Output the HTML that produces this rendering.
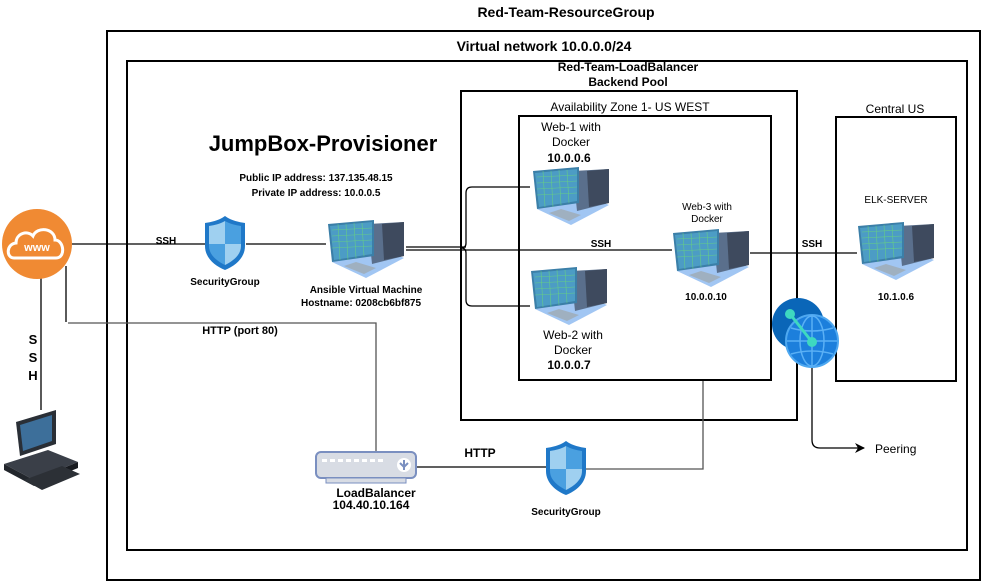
<!DOCTYPE html>
<html><head><meta charset="utf-8"><style>
body{margin:0;background:#fff}
svg{display:block;font-family:"Liberation Sans",Arial,sans-serif}
</style></head><body>
<svg width="983" height="582" viewBox="0 0 983 582">
<defs>
<g id="vm">
 <polygon points="6,44 40,60 78,40 46,26" fill="#8ab8f0" opacity="0.8"/>
 <polygon points="42,6 78,4 78,38 46,46" fill="#5a6f8c"/>
 <polygon points="56,6 78,4 78,38 58,42" fill="#3e4a5e"/>
 <polygon points="2,6 48,2 48,38 6,44" fill="#3b7fa8"/>
 <polygon points="4,8 46,4 46,36 8,42" fill="#4fa0c8" opacity="0.9"/>
 <path d="M6,12 L46,10 M6,18 L46,16 M6,24 L46,22 M6,30 L46,28 M12,6 L14,42 M20,6 L22,42 M28,5 L30,40 M36,5 L38,38" stroke="#6fe06f" stroke-width="0.6" opacity="0.7"/>
 <polygon points="18,48 38,56 50,50 30,44" fill="#9fb0c0"/>
</g>
<g id="shield">
 <path d="M20,0 C27,5 34,6 40,7 L40,30 C40,42 30,50 20,54 C10,50 0,42 0,30 L0,7 C6,6 13,5 20,0Z" fill="#1f78c8"/>
 <path d="M20,5 L20,28 L4,28 L4,10 C10,9 15,8 20,5Z" fill="#9fd0f0"/>
 <path d="M20,5 C25,8 30,9 36,10 L36,28 L20,28Z" fill="#4aa0e0"/>
 <path d="M4,28 L20,28 L20,49 C12,45 4,39 4,30Z" fill="#4aa0e0"/>
 <path d="M20,28 L36,28 L36,30 C36,39 28,45 20,49Z" fill="#9fd0f0"/>
</g>
<marker id="ar" markerWidth="10" markerHeight="10" refX="9" refY="5" orient="auto" markerUnits="userSpaceOnUse"><path d="M0,0 L10,5 L0,10 L3,5Z" fill="#000"/></marker>
</defs>

<text x="566" y="17" font-size="14" font-weight="bold" text-anchor="middle">Red-Team-ResourceGroup</text>
<rect x="107" y="31" width="873" height="549" fill="none" stroke="#000" stroke-width="2"/>
<text x="544" y="51" font-size="14" font-weight="bold" text-anchor="middle">Virtual network 10.0.0.0/24</text>
<rect x="127" y="61" width="840" height="489" fill="none" stroke="#000" stroke-width="2"/>
<text x="628" y="71" font-size="12" font-weight="bold" text-anchor="middle">Red-Team-LoadBalancer</text>
<text x="628" y="86" font-size="12" font-weight="bold" text-anchor="middle">Backend Pool</text>
<rect x="461" y="91" width="336" height="329" fill="none" stroke="#000" stroke-width="2"/>
<text x="630" y="111" font-size="12" text-anchor="middle">Availability Zone 1- US WEST</text>
<rect x="519" y="116" width="252" height="264" fill="none" stroke="#000" stroke-width="2"/>
<text x="895" y="113" font-size="12" text-anchor="middle">Central US</text>
<rect x="836" y="117" width="120" height="264" fill="none" stroke="#000" stroke-width="2"/>

<text x="323" y="151" font-size="22" font-weight="bold" text-anchor="middle">JumpBox-Provisioner</text>
<text x="316" y="181" font-size="10" font-weight="bold" text-anchor="middle">Public IP address: 137.135.48.15</text>
<text x="316" y="196" font-size="10" font-weight="bold" text-anchor="middle">Private IP address: 10.0.0.5</text>

<!-- lines -->
<g stroke="#000" stroke-width="1.3" fill="none">
 <line x1="72" y1="244" x2="206" y2="244"/>
 <line x1="246" y1="244" x2="326" y2="244"/>
 <line x1="406" y1="247" x2="466" y2="247"/>
 <line x1="406" y1="250" x2="672" y2="250"/>
 <path d="M530,187 L472,187 Q466,187 466,193 L466,243 Q466,248 461,248 Q466,248 466,253 L466,300 Q466,306 472,306 L530,306"/>
 <line x1="750" y1="253" x2="857" y2="253"/>
 <line x1="41" y1="278" x2="41" y2="410"/>
 <line x1="66" y1="266" x2="66" y2="322"/>
 <path d="M68,323 L376,323 L376,452" stroke="#555"/>
 <line x1="415" y1="467" x2="546" y2="467"/>
 <path d="M585,469 L703,469 L703,381" stroke="#555"/>
 <path d="M812,368 L812,440 Q812,448 820,448 L864,448" marker-end="url(#ar)"/>
</g>

<text x="166" y="244" font-size="10" font-weight="bold" text-anchor="middle">SSH</text>
<text x="601" y="247" font-size="10" font-weight="bold" text-anchor="middle">SSH</text>
<text x="812" y="247" font-size="10" font-weight="bold" text-anchor="middle">SSH</text>
<text x="240" y="334" font-size="11" font-weight="bold" text-anchor="middle">HTTP (port 80)</text>
<text x="480" y="457" font-size="12" font-weight="bold" text-anchor="middle">HTTP</text>
<text x="33" y="344" font-size="13" font-weight="bold" text-anchor="middle">S</text>
<text x="33" y="362" font-size="13" font-weight="bold" text-anchor="middle">S</text>
<text x="33" y="380" font-size="13" font-weight="bold" text-anchor="middle">H</text>
<text x="875" y="453" font-size="12">Peering</text>

<!-- www cloud -->
<circle cx="37" cy="244" r="35" fill="#f08a33"/>
<path d="M14,258 C6,258 6,244 16,243 C16,233 28,230 33,236 C37,226 55,228 55,240 C64,240 66,258 56,258Z" fill="none" stroke="#fff" stroke-width="3"/>
<text x="37" y="251" font-size="11" font-weight="bold" fill="#fff" text-anchor="middle">www</text>

<!-- computer -->
<g transform="translate(2,410)">
 <polygon points="14,12 54,0 54,34 18,46" fill="#2a2f36"/>
 <polygon points="18,15 50,5 50,31 21,41" fill="#3d6f9a"/>
 <polygon points="2,54 46,40 76,52 32,70" fill="#3a3f48"/>
 <polygon points="2,54 32,70 32,76 2,60" fill="#22262c"/>
 <polygon points="32,70 76,52 76,58 32,76" fill="#181b20"/>
 <polygon points="22,70 60,56 78,64 40,80" fill="#2c3036"/>
</g>

<!-- shields -->
<use href="#shield" transform="translate(205,216)"/>
<text x="225" y="285" font-size="10" font-weight="bold" text-anchor="middle">SecurityGroup</text>
<use href="#shield" transform="translate(546,441)"/>
<text x="566" y="515" font-size="10" font-weight="bold" text-anchor="middle">SecurityGroup</text>

<!-- VMs -->
<use href="#vm" transform="translate(326,218)"/>
<text x="366" y="293" font-size="10" font-weight="bold" text-anchor="middle">Ansible Virtual Machine</text>
<text x="361" y="306" font-size="10" font-weight="bold" text-anchor="middle">Hostname: 0208cb6bf875</text>
<use href="#vm" transform="translate(531,165)"/>
<text x="571" y="131" font-size="12" text-anchor="middle">Web-1 with</text>
<text x="571" y="146" font-size="12" text-anchor="middle">Docker</text>
<text x="569" y="162" font-size="12" font-weight="bold" text-anchor="middle">10.0.0.6</text>
<use href="#vm" transform="translate(529,265)"/>
<text x="573" y="339" font-size="12" text-anchor="middle">Web-2 with</text>
<text x="573" y="354" font-size="12" text-anchor="middle">Docker</text>
<text x="569" y="369" font-size="12" font-weight="bold" text-anchor="middle">10.0.0.7</text>
<use href="#vm" transform="translate(671,227)"/>
<text x="707" y="210" font-size="10" text-anchor="middle">Web-3 with</text>
<text x="707" y="222" font-size="10" text-anchor="middle">Docker</text>
<text x="706" y="300" font-size="10" font-weight="bold" text-anchor="middle">10.0.0.10</text>
<use href="#vm" transform="translate(856,220)"/>
<text x="896" y="203" font-size="10" text-anchor="middle">ELK-SERVER</text>
<text x="896" y="300" font-size="10" font-weight="bold" text-anchor="middle">10.1.0.6</text>

<!-- load balancer -->
<rect x="316" y="452" width="100" height="26" rx="5" fill="#d8dce4" stroke="#7a8fc0" stroke-width="2"/>
<rect x="326" y="478" width="80" height="5" fill="#d8dce4" stroke="#7a8fc0" stroke-width="1"/>
<g fill="#fff"><rect x="322" y="459" width="5" height="3"/><rect x="330" y="459" width="5" height="3"/><rect x="338" y="459" width="5" height="3"/><rect x="346" y="459" width="5" height="3"/><rect x="354" y="459" width="5" height="3"/><rect x="362" y="459" width="5" height="3"/><rect x="370" y="459" width="5" height="3"/><rect x="378" y="459" width="5" height="3"/></g>
<circle cx="404" cy="465" r="7" fill="#fff"/>
<path d="M404,460 L404,470 M400,463 L404,467 L408,463" stroke="#7a8fc0" stroke-width="2" fill="none"/>
<text x="376" y="497" font-size="12" font-weight="bold" text-anchor="middle">LoadBalancer</text>
<text x="371" y="509" font-size="12" font-weight="bold" text-anchor="middle">104.40.10.164</text>

<!-- peering icon -->
<circle cx="798" cy="324" r="26" fill="#0a66b8"/>
<circle cx="812" cy="341" r="26" fill="#1c7fdc" stroke="#4ea8f0" stroke-width="2"/>
<g stroke="#5ab0f5" stroke-width="1.5" fill="none">
 <ellipse cx="812" cy="341" rx="12" ry="25"/>
 <line x1="787" y1="341" x2="837" y2="341"/>
 <line x1="812" y1="316" x2="812" y2="366"/>
 <path d="M791,328 Q812,334 833,328 M791,354 Q812,348 833,354"/>
</g>
<line x1="790" y1="314" x2="812" y2="342" stroke="#3ed8c0" stroke-width="3"/>
<circle cx="790" cy="314" r="5" fill="#3ed8c0"/>
<circle cx="812" cy="342" r="5" fill="#3ed8c0"/>
</svg>
</body></html>
